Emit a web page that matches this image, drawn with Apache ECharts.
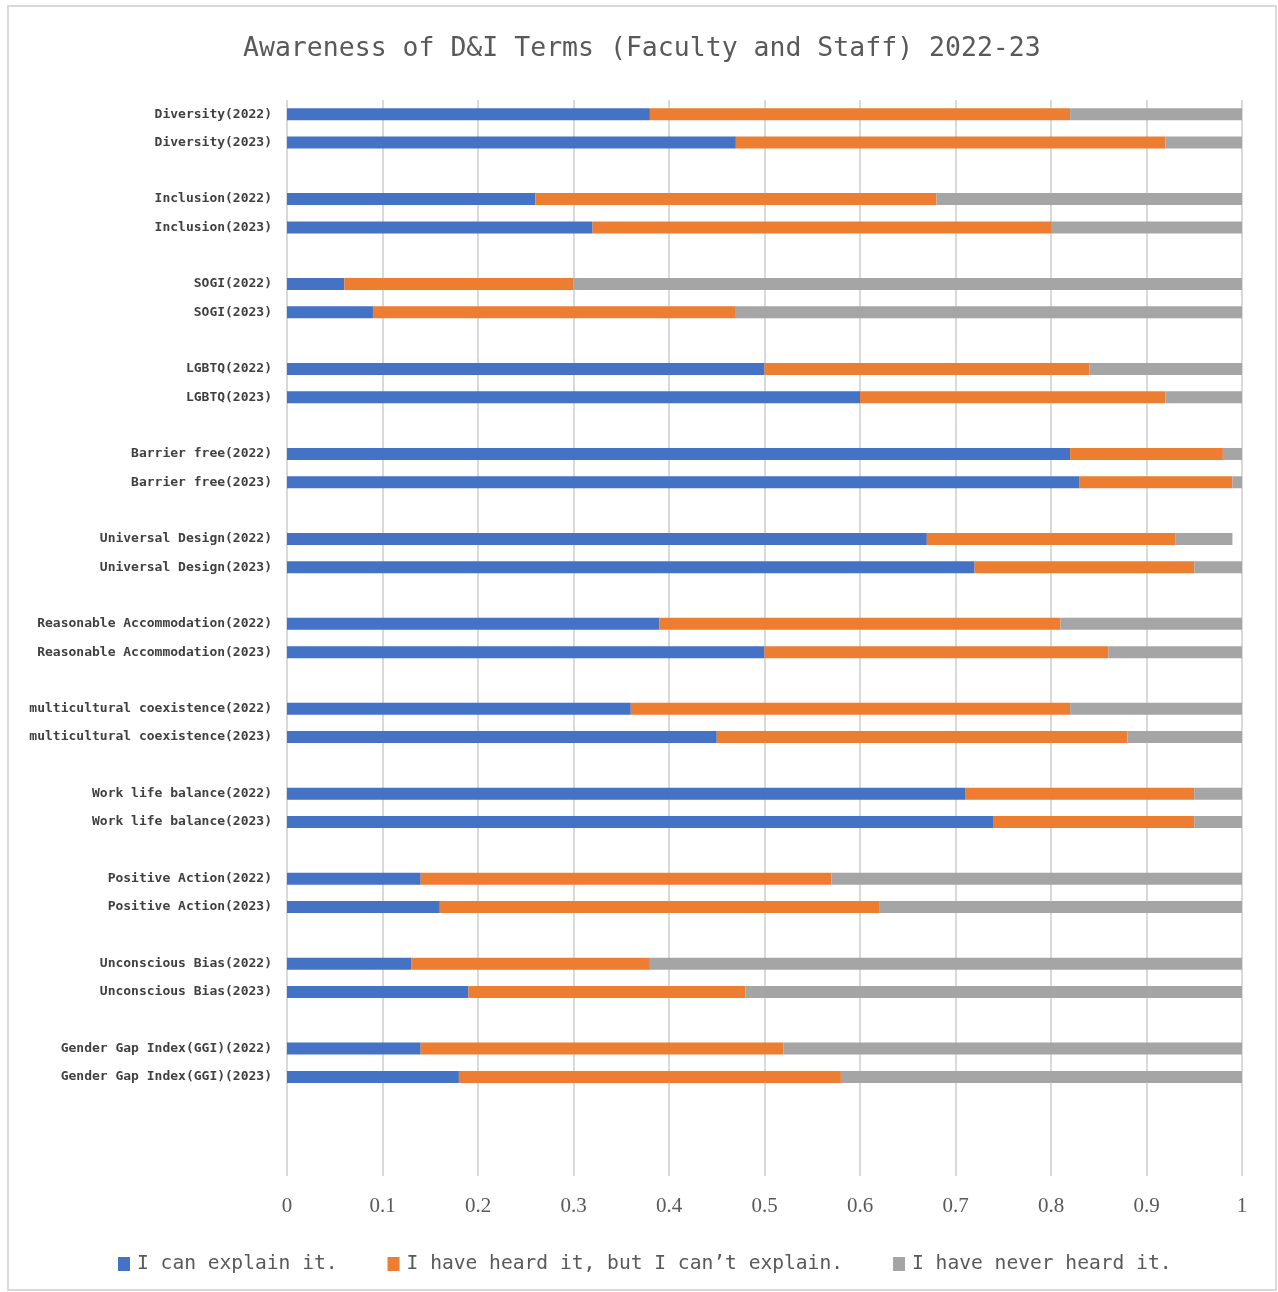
<!DOCTYPE html>
<html>
<head>
<meta charset="utf-8">
<script src="https://cdn.jsdelivr.net/npm/echarts@6/dist/echarts.min.js"></script>
<style>
  html, body { margin: 0; padding: 0; background: #fff; }
  #main { width: 1278px; height: 1292px; }
</style>
</head>
<body>
<div id="main"></div>
<script>
// terms, each asked in 2022 and 2023
var terms = ['Diversity', 'Inclusion', 'SOGI', 'LGBTQ', 'Barrier free', 'Universal Design',
  'Reasonable Accommodation', 'multicultural coexistence', 'Work life balance',
  'Positive Action', 'Unconscious Bias', 'Gender Gap Index(GGI)'];
var years = ['2022', '2023'];

// shares, ordered term by term: 2022 then 2023
var canExplain = [0.38, 0.47, 0.26, 0.32, 0.06, 0.09, 0.50, 0.60, 0.82, 0.83, 0.67, 0.72,
  0.39, 0.50, 0.36, 0.45, 0.71, 0.74, 0.14, 0.16, 0.13, 0.19, 0.14, 0.18];
var heardOnly = [0.44, 0.45, 0.42, 0.48, 0.24, 0.38, 0.34, 0.32, 0.16, 0.16, 0.26, 0.23,
  0.42, 0.36, 0.46, 0.43, 0.24, 0.21, 0.43, 0.46, 0.25, 0.29, 0.38, 0.40];
var neverHeard = [0.18, 0.08, 0.32, 0.20, 0.70, 0.53, 0.16, 0.08, 0.02, 0.01, 0.06, 0.05,
  0.19, 0.14, 0.18, 0.12, 0.05, 0.05, 0.43, 0.38, 0.62, 0.52, 0.48, 0.42];

var seriesNames = ['I can explain it.', 'I have heard it, but I can\u2019t explain.', 'I have never heard it.'];
var xTicks = [0, 0.1, 0.2, 0.3, 0.4, 0.5, 0.6, 0.7, 0.8, 0.9, 1];

// build the category list with a blank row after each pair (plus a few at the end)
var cats = [], a = [], b = [], c = [];
var blank = 0;
function addBlank() {
  blank++;
  cats.push(new Array(blank + 1).join(' '));
  a.push(null); b.push(null); c.push(null);
}
terms.forEach(function (t, i) {
  years.forEach(function (y, j) {
    var k = i * 2 + j;
    cats.push(t + '(' + y + ')');
    a.push(canExplain[k]); b.push(heardOnly[k]); c.push(neverHeard[k]);
  });
  addBlank();
});
addBlank(); addBlank();

var chart = echarts.init(document.getElementById('main'));
var mono = 'DejaVu Sans Mono';

function bar(name, data, color) {
  return {
    name: name,
    type: 'bar',
    stack: 'total',
    barWidth: 12,
    data: data,
    itemStyle: { color: color },
    emphasis: { disabled: true }
  };
}

chart.setOption({
  animation: false,
  color: ['#4472C4', '#ED7D31', '#A5A5A5'],
  title: {
    text: 'Awareness of D&I Terms (Faculty and Staff) 2022-23',
    left: 238,
    top: 31,
    textStyle: { fontFamily: mono, fontSize: 26.5, fontWeight: 'normal', color: '#595959' }
  },
  grid: { left: 287, right: 36, top: 100, bottom: 116, containLabel: false },
  xAxis: {
    type: 'value',
    min: 0,
    max: 1,
    interval: 0.1,
    axisLine: { show: false },
    axisTick: { show: false },
    splitLine: { lineStyle: { color: '#D9D9D9', width: 2 } },
    axisLabel: {
      margin: 20,
      fontFamily: 'Liberation Serif',
      fontSize: 21,
      color: '#595959',
      formatter: function (v) {
        var hit = xTicks.filter(function (t) { return Math.abs(t - v) < 1e-9; });
        return hit.length ? String(hit[0]) : '';
      }
    }
  },
  yAxis: {
    type: 'category',
    inverse: true,
    data: cats,
    axisLine: { show: false },
    axisTick: { show: false },
    axisLabel: { margin: 15, fontFamily: mono, fontSize: 13, fontWeight: 'bold', color: '#404040', interval: 0 }
  },
  legend: {
    left: 113,
    top: 1249,
    itemWidth: 12,
    itemHeight: 14,
    itemGap: 50,
    icon: 'rect',
    textStyle: { fontFamily: mono, fontSize: 19.6, color: '#595959', padding: [0, 0, 0, 2] },
    data: seriesNames
  },
  graphic: [{
    type: 'rect',
    shape: { x: 8, y: 6, width: 1268, height: 1284 },
    style: { fill: 'none', stroke: '#D9D9D9', lineWidth: 2 },
    silent: true
  }],
  series: [
    bar(seriesNames[0], a, '#4472C4'),
    bar(seriesNames[1], b, '#ED7D31'),
    bar(seriesNames[2], c, '#A5A5A5')
  ]
});
</script>
</body>
</html>
